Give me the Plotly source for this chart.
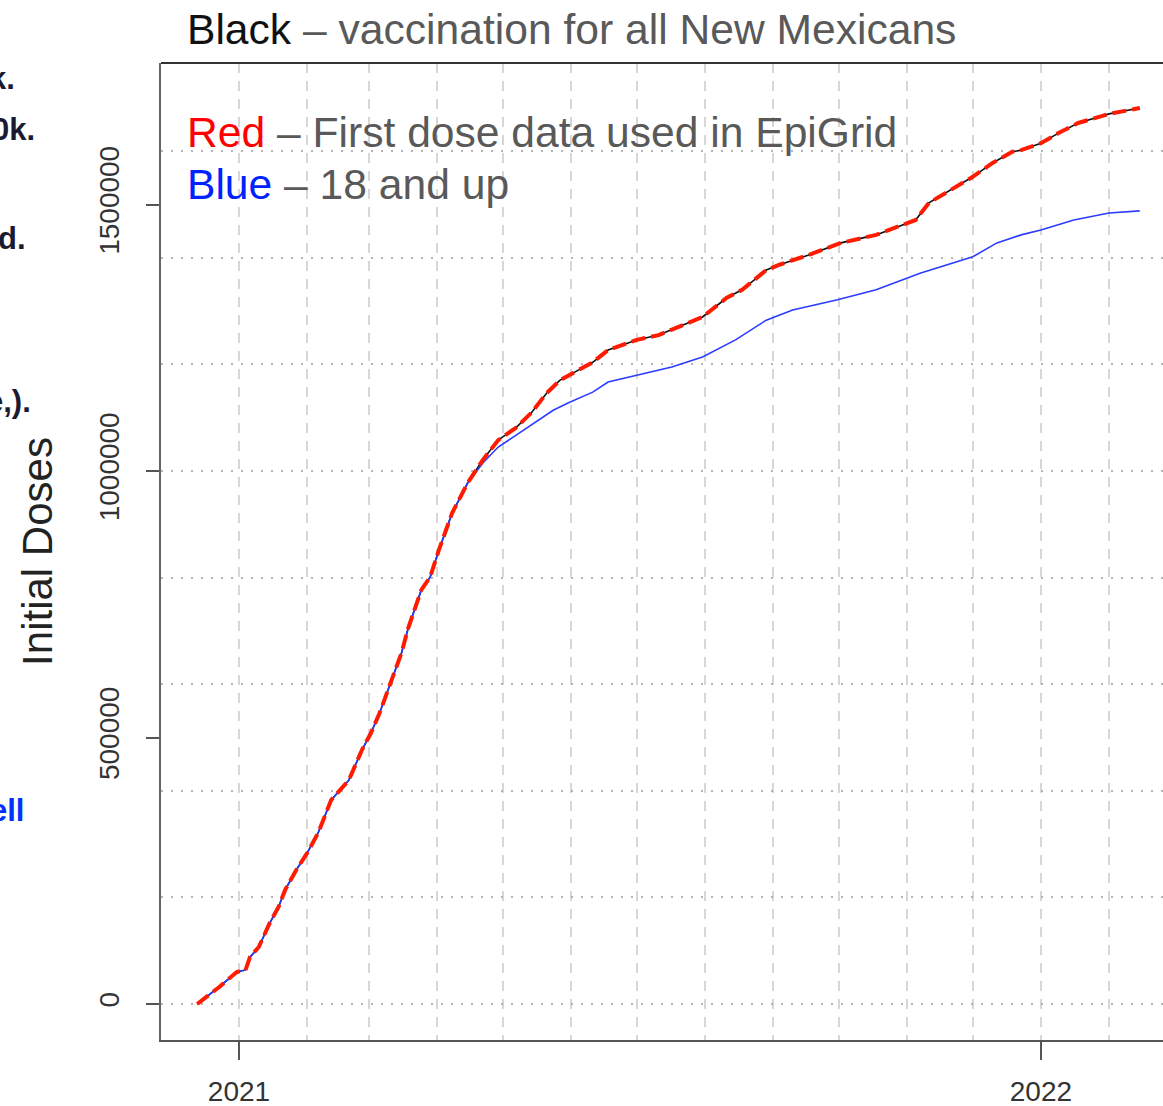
import plotly.graph_objects as go

# ---------------- data ----------------
all_dates = [
    "2020-12-13", "2020-12-23", "2020-12-31", "2021-01-04", "2021-01-06", "2021-01-10",
    "2021-01-15", "2021-01-19", "2021-01-22", "2021-01-27", "2021-02-01", "2021-02-06",
    "2021-02-12", "2021-02-20", "2021-02-26", "2021-03-02", "2021-03-06", "2021-03-12",
    "2021-03-16", "2021-03-19", "2021-03-25", "2021-03-29", "2021-04-02", "2021-04-08",
    "2021-04-15", "2021-04-22", "2021-04-29", "2021-05-07", "2021-05-14", "2021-05-21",
    "2021-05-27", "2021-06-03", "2021-06-11", "2021-06-18", "2021-07-01", "2021-07-11",
    "2021-07-31", "2021-08-11", "2021-08-18", "2021-08-29", "2021-09-04", "2021-09-17",
    "2021-10-02", "2021-10-18", "2021-11-01", "2021-11-05", "2021-11-11", "2021-11-19",
    "2021-12-01", "2021-12-10", "2021-12-19", "2021-12-23", "2022-01-01", "2022-01-09",
    "2022-01-18", "2022-02-01", "2022-02-15",
]
all_doses = [
    0, 32000, 60000, 64000, 88000, 107000,
    152000, 182000, 214000, 251000, 283000, 321000,
    383000, 420000, 477000, 508000, 546000, 614000,
    659000, 705000, 777000, 801000, 852000, 921000,
    977000, 1021000, 1058000, 1081000, 1109000, 1146000,
    1170000, 1186000, 1204000, 1227000, 1246000, 1255000,
    1289000, 1325000, 1340000, 1377000, 1387000, 1405000,
    1428000, 1443000, 1465000, 1471000, 1503000, 1523000,
    1552000, 1578000, 1599000, 1602000, 1615000, 1634000,
    1653000, 1670000, 1681000,
]
# first dose data used in EpiGrid (coincides with the all-ages series)
epigrid_dates = list(all_dates)
epigrid_doses = list(all_doses)

adult_dates = [
    "2020-12-13", "2020-12-23", "2020-12-31", "2021-01-04", "2021-01-06", "2021-01-10",
    "2021-01-15", "2021-01-19", "2021-01-22", "2021-01-27", "2021-02-01", "2021-02-06",
    "2021-02-12", "2021-02-20", "2021-02-26", "2021-03-02", "2021-03-06", "2021-03-12",
    "2021-03-16", "2021-03-19", "2021-03-25", "2021-03-29", "2021-04-02", "2021-04-08",
    "2021-04-15", "2021-04-22", "2021-04-29", "2021-05-07", "2021-05-14", "2021-05-24",
    "2021-05-31", "2021-06-11", "2021-06-18", "2021-07-01", "2021-07-17", "2021-07-31",
    "2021-08-15", "2021-08-29", "2021-09-10", "2021-09-30", "2021-10-18", "2021-11-07",
    "2021-12-01", "2021-12-12", "2021-12-23", "2022-01-01", "2022-01-16", "2022-02-01",
    "2022-02-15",
]
adult_doses = [
    0, 32000, 60000, 64000, 88000, 107000,
    152000, 182000, 214000, 251000, 283000, 321000,
    383000, 420000, 477000, 508000, 546000, 614000,
    659000, 705000, 777000, 801000, 852000, 921000,
    977000, 1015000, 1045000, 1067000, 1086000, 1114000,
    1128000, 1148000, 1167000, 1180000, 1195000, 1214000,
    1246000, 1283000, 1302000, 1321000, 1340000, 1371000,
    1402000, 1428000, 1443000, 1452000, 1471000, 1484000,
    1488000,
]

y_tick_values = [0, 500000, 1000000, 1500000]
y_tick_labels = ["0", "500000", "1000000", "1500000"]
y_grid_values = [0, 200000, 400000, 600000, 800000, 1000000, 1200000, 1400000, 1600000]
month_grid = [
    "2021-01-01", "2021-02-01", "2021-03-01", "2021-04-01", "2021-05-01", "2021-06-01",
    "2021-07-01", "2021-08-01", "2021-09-01", "2021-10-01", "2021-11-01", "2021-12-01",
    "2022-01-01", "2022-02-01",
]

# ---------------- layout geometry ----------------
W, H = 1163, 1106
L, R, T, B = 161, 0, 63, 66
PW, PH = W - L - R, H - T - B
Y_RANGE = [-67500, 1765500]

def px(x):
    return (x - L) / PW

def py(y):
    return (H - B - y) / PH

FONT = "Liberation Sans, Arial, sans-serif"

fig = go.Figure()

fig.add_trace(go.Scatter(
    x=all_dates, y=all_doses, mode="lines", name="All New Mexicans",
    line=dict(color="#111111", width=1.6), yaxis="y",
))
fig.add_trace(go.Scatter(
    x=adult_dates, y=adult_doses, mode="lines", name="18 and up",
    line=dict(color="#2a3cff", width=1.6), yaxis="y2",
))
fig.add_trace(go.Scatter(
    x=epigrid_dates, y=epigrid_doses, mode="lines", name="EpiGrid first dose",
    line=dict(color="#ff1a00", width=4, dash="14px,6px"), yaxis="y2",
))

fig.update_layout(
    width=W, height=H,
    margin=dict(l=L, r=R, t=T, b=B, autoexpand=False),
    paper_bgcolor="white", plot_bgcolor="white",
    showlegend=False,
    font=dict(family=FONT, color="#333333"),
    xaxis=dict(
        type="date", automargin=False,
        range=["2020-11-26 12:00", "2022-02-25 14:00"],
        tickmode="linear", tick0="2021-01-01", dtick="M12",
        tickformat="%Y",
        ticks="outside", ticklen=18, tickwidth=2, tickcolor="#555555",
        tickfont=dict(size=28, color="#333333"),
        ticklabelstandoff=7,
        showgrid=True, gridcolor="#d6d6d6", gridwidth=1.5, griddash="10px,8px",
        minor=dict(tickmode="array", tickvals=month_grid, ticks="", showgrid=True,
                   gridcolor="#d6d6d6", gridwidth=1.5, griddash="10px,8px"),
        showline=True, linecolor="#555555", linewidth=2,
        zeroline=False,
    ),
    yaxis=dict(
        range=Y_RANGE, automargin=False,
        tickmode="array", tickvals=y_tick_values, ticktext=y_tick_labels,
        tickangle=-90,
        ticks="outside", ticklen=13, tickwidth=1.5, tickcolor="#555555",
        tickfont=dict(size=28, color="#333333"),
        ticklabelstandoff=16,
        showgrid=False, zeroline=False,
        showline=True, linecolor="#666666", linewidth=2,
        title=dict(text="Initial Doses", font=dict(size=42, color="#222222"), standoff=28),
    ),
    yaxis2=dict(
        range=Y_RANGE, overlaying="y", anchor="x", side="left", automargin=False,
        tickmode="array", tickvals=y_grid_values,
        showticklabels=False, ticks="",
        showgrid=True, gridcolor="#b4b4b4", gridwidth=1.5, griddash="2px,8px",
        zeroline=False, showline=False,
    ),
)

# top border of the box
fig.add_shape(type="line", xref="paper", yref="paper", x0=0, x1=1, y0=1, y1=1,
              line=dict(color="#333333", width=2))

# header / legend texts
TXT = 42.6
fig.add_annotation(
    xref="paper", yref="paper", x=px(185), y=py(29), xanchor="left", yanchor="middle",
    showarrow=False, align="left",
    text="<span style='color:#111111'>Black</span> – vaccination for all New Mexicans",
    font=dict(size=TXT, color="#595959", family=FONT),
)
fig.add_annotation(
    xref="paper", yref="paper", x=px(185), y=py(132), xanchor="left", yanchor="middle",
    showarrow=False, align="left",
    text="<span style='color:#ff0000'>Red</span> – First dose data used in EpiGrid",
    font=dict(size=TXT, color="#595959", family=FONT),
)
fig.add_annotation(
    xref="paper", yref="paper", x=px(185), y=py(184), xanchor="left", yanchor="middle",
    showarrow=False, align="left",
    text="<span style='color:#0022ff'>Blue</span> – 18 and up",
    font=dict(size=TXT, color="#595959", family=FONT),
)

# fragments of slide text cut off at the left edge
fragments = [("k.", 17, 78, "#1a1a33"), ("0k.", 37, 130, "#1a1a33"),
             ("d.", 28, 238, "#1a1a33"), ("e,).", 33, 402, "#1a1a33"),
             ("ell", 26, 810, "#0033ff")]
for txt, xr, yc, col in fragments:
    fig.add_annotation(
        xref="paper", yref="paper", x=px(xr), y=py(yc), xanchor="right", yanchor="middle",
        showarrow=False, text=f"<b>{txt}</b>",
        font=dict(size=31, color=col, family=FONT),
    )

fig.write_html(
    "out.html",
    config={"displayModeBar": False},
    post_script="document.body.style.margin='0px';document.body.style.overflow='hidden';",
)
